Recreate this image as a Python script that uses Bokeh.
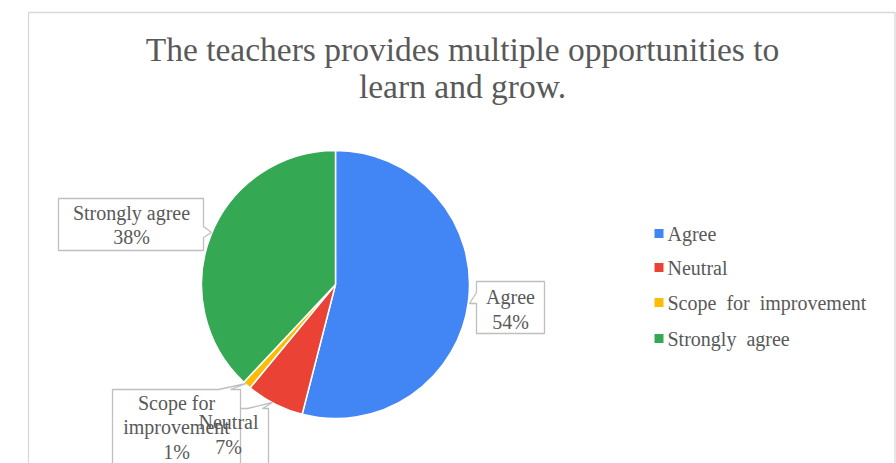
import math
from bokeh.plotting import figure
from bokeh.models import Range1d, ColumnDataSource
from bokeh.core.properties import value
from bokeh.embed import file_html
from bokeh.resources import INLINE

# ---- data ----
title_lines = ["The teachers provides multiple opportunities to", "learn and grow."]
categories = ["Agree", "Neutral", "Scope for improvement", "Strongly agree"]
percents = [54, 7, 1, 38]
colors = ["#4285F4", "#EA4335", "#FBBC04", "#34A853"]
NB = "\u00a0"
legend_labels = ["Agree", "Neutral", "Scope" + NB + NB + "for" + NB + NB + "improvement", "Strongly" + NB + NB + "agree"]
label_texts = ["Agree\n54%", "Neutral\n7%", "Scope for\nimprovement\n1%", "Strongly agree\n38%"]

W, H = 896, 463


def sy(y):
    return H - y


p = figure(width=W, height=H, output_backend="svg", toolbar_location=None,
           x_range=Range1d(0, W), y_range=Range1d(0, H),
           min_border=0, outline_line_color=None)
p.axis.visible = False
p.grid.visible = False
p.background_fill_color = "white"
p.border_fill_color = "white"

FONT = value("Liberation Serif")
TXT = "#595959"
BOX = "#BFBFBF"

# chart area border
p.line(x=[28, 28, 894.5, 894.5], y=[sy(470), sy(12), sy(12), sy(470)],
       line_color="#D9D9D9", line_width=1.3)

# title
p.text(x=[462, 462], y=[sy(49), sy(86)], text=title_lines, text_font=FONT,
       text_font_size="33.5px", text_color=TXT, text_align="center", text_baseline="middle")

# pie
cx, cy, r = 335, sy(284), 134
total = float(sum(percents))
starts, ends = [], []
cum = 0.0
for v in percents:
    starts.append(math.pi / 2 - 2 * math.pi * cum / total)
    cum += v
    ends.append(math.pi / 2 - 2 * math.pi * cum / total)
src = ColumnDataSource(dict(start=starts, end=ends, color=colors))
p.wedge(x=cx, y=cy, radius=r, radius_units="screen", start_angle="start", end_angle="end",
        direction="clock", fill_color="color", line_color="white", line_width=1.5, source=src)

# callout shapes (layout)
callouts = {
    "Agree": [(476, 281), (544, 281), (544, 333), (476, 333), (476, 303), (469, 303), (476, 292)],
    "Neutral": [(190, 408), (247, 408), (272, 402), (262, 408), (268, 408), (268, 470), (190, 470)],
    "Scope for improvement": [(112, 389), (218, 389), (246, 383), (230, 389), (240, 389), (240, 470), (112, 470)],
    "Strongly agree": [(58, 198), (203, 198), (203, 226), (211, 232), (203, 237), (203, 250), (58, 250)],
}
label_pos = {
    "Agree": (510, 309),
    "Neutral": (228, 434),
    "Scope for improvement": (176, 427),
    "Strongly agree": (131, 224.5),
}
for name in ["Agree", "Strongly agree", "Neutral", "Scope for improvement"]:
    pts = callouts[name]
    p.patch(x=[q[0] for q in pts], y=[sy(q[1]) for q in pts], fill_color="white",
            line_color=BOX, line_width=1.3)
for name, txt in zip(categories, label_texts):
    lx, ly = label_pos[name]
    p.text(x=[lx], y=[sy(ly)], text=[txt], text_font=FONT, text_font_size="20px",
           text_color=TXT, text_align="center", text_baseline="middle", text_line_height=1.12)

# legend
leg_y = [233, 267, 302, 338]
p.rect(x=[658.5] * 4, y=[sy(v) for v in leg_y], width=9, height=9, width_units="screen",
       height_units="screen", fill_color=colors, line_color=None)
p.text(x=[667] * 4, y=[sy(v) for v in leg_y], text=legend_labels, text_font=FONT,
       text_font_size="20px", text_color=TXT, text_align="left", text_baseline="middle")

open("out.html", "w").write(file_html(p, INLINE))
